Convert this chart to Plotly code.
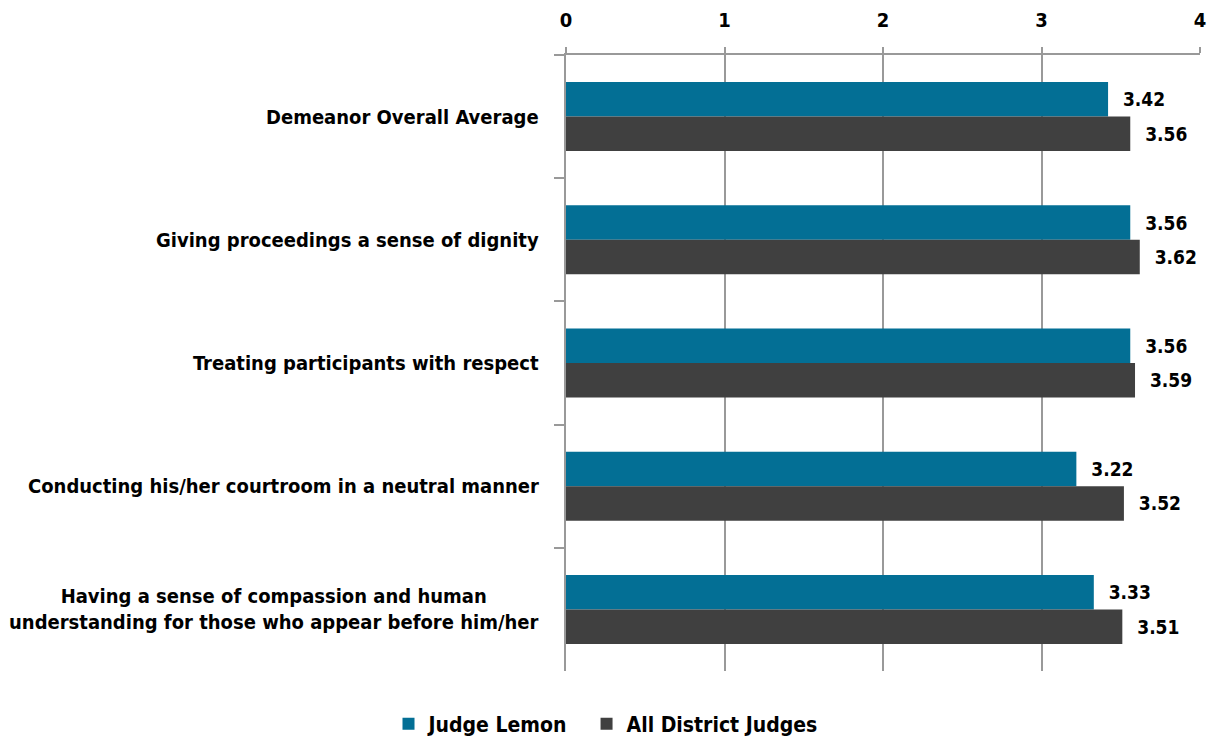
import plotly.graph_objects as go

categories = [
    "Demeanor Overall Average",
    "Giving proceedings a sense of dignity",
    "Treating participants with respect",
    "Conducting his/her courtroom in a neutral manner",
    "Having a sense of compassion and human<br>understanding for those who appear before him/her",
]
series_names = ["Judge Lemon", "All District Judges"]
judge_lemon = [3.42, 3.56, 3.56, 3.22, 3.33]
all_district = [3.56, 3.62, 3.59, 3.52, 3.51]
x_ticks = [0, 1, 2, 3, 4]

FONT = "Liberation Sans Narrow, DejaVu Sans Condensed, Arial Narrow, sans-serif"
TEAL = "#036F95"
GRAY = "#404040"

fig = go.Figure()
for name, vals, col, pad in [(series_names[0], judge_lemon, TEAL, "\u00a0\u00a0"),
                             (series_names[1], all_district, GRAY, "")]:
    fig.add_trace(go.Bar(
        y=categories, x=vals, name=name + pad, orientation="h",
        marker=dict(color=col, line=dict(width=0)),
        text=["\u00a0\u00a0" + f"{v:.2f}" for v in vals], textposition="outside",
        textfont=dict(family=FONT, size=19, color="black", weight="bold"),
        cliponaxis=False,
    ))

for i, c in enumerate(categories):
    fig.add_annotation(
        x=0, xref="paper", xshift=-25, y=c, yref="y",
        text=f"<b>{c}</b>", showarrow=False, xanchor="right", align="center",
        font=dict(family=FONT, size=20, color="black"),
    )

fig.update_layout(
    width=1211, height=738,
    margin=dict(l=566, r=11, t=55, b=67, autoexpand=False),
    paper_bgcolor="white", plot_bgcolor="white",
    barmode="group", bargap=0.44, bargroupgap=0,
    font=dict(family=FONT, size=20, color="black"),
    legend=dict(orientation="h", x=0.5, xref="container", xanchor="center",
                y=-0.086, yref="paper", yanchor="middle",
                font=dict(family=FONT, size=21, weight="bold"),
                itemwidth=30, traceorder="normal"),
    xaxis=dict(side="top", range=[0, 4], tickvals=x_ticks, ticktext=[str(t) for t in x_ticks],
               automargin=False,
               showgrid=True, gridcolor="#999999", gridwidth=1.5,
               showline=True, linecolor="#999999", linewidth=1.5,
               ticks="outside", ticklen=6, tickcolor="#999999", tickwidth=1.5,
               ticklabelstandoff=12,
               tickfont=dict(family=FONT, size=20, weight="bold"), zeroline=False),
    yaxis=dict(autorange="reversed", showticklabels=False, automargin=False,
               showline=True, linecolor="#999999", linewidth=1.5,
               ticks="outside", tickson="boundaries", ticklen=10, tickcolor="#999999", tickwidth=1.5,
               showgrid=False),
)

# remove the page's default body margin so the figure fills the window exactly
fig.write_html("out.html", config={"displayModeBar": False},
               post_script="document.body.style.margin='0';document.body.style.overflow='hidden';")
